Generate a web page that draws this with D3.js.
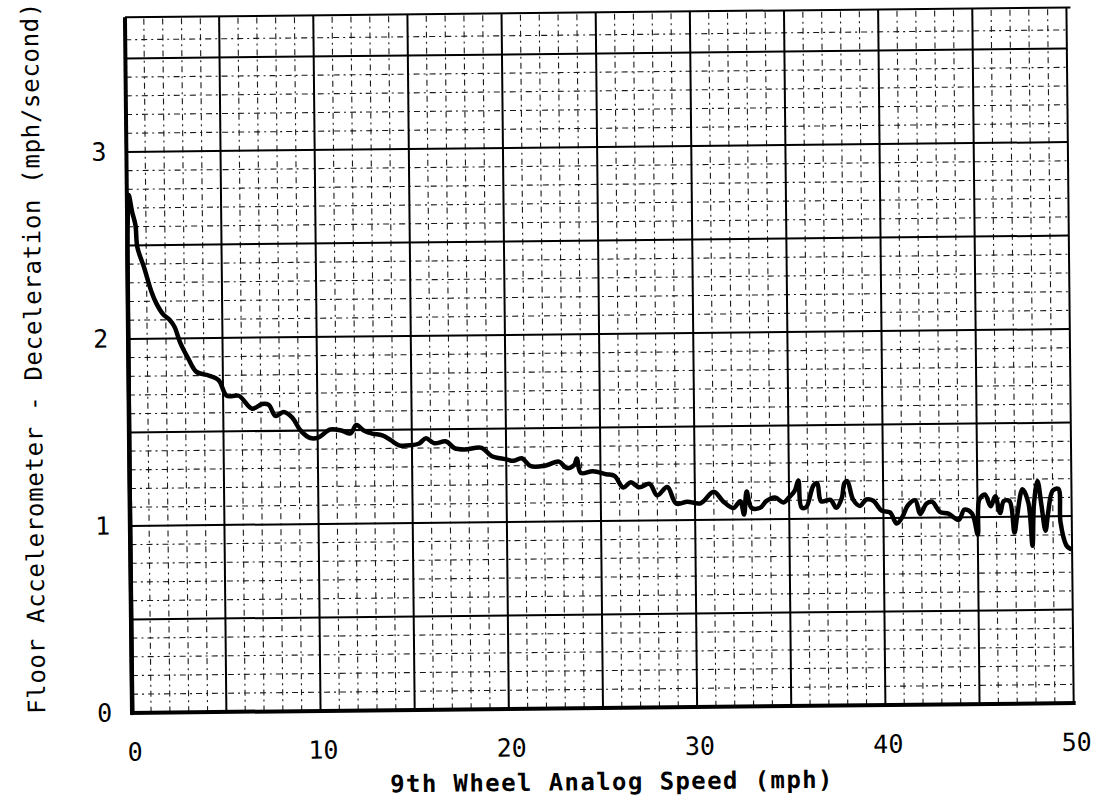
<!DOCTYPE html>
<html>
<head>
<meta charset="utf-8">
<script src="https://cdn.jsdelivr.net/npm/d3@7"></script>
<style>
  html, body { margin: 0; padding: 0; background: #fff; }
  svg { display: block; }
  text { font-family: "DejaVu Sans Mono", monospace; fill: #000; }
</style>
</head>
<body>
<svg id="chart" width="1099" height="806"></svg>
<script>
// Fifth-wheel deceleration trace: speed (mph) vs. floor accelerometer reading (mph/s)
const speed = [
  0, 0, 0.03, 0.1, 0.27, 0.44, 0.53, 0.88, 1.24, 1.5, 1.86, 2.2, 2.47, 2.74, 3.18, 3.6,
  4.24, 4.77, 5.2, 5.83, 6.54, 7.07, 7.42, 7.77, 8.2, 8.66, 9.1, 9.61, 10.05, 10.68,
  11.3, 11.74, 12.06, 12.45, 12.9, 13.43, 13.88, 14.32, 14.95, 15.39, 15.75, 16.19,
  16.82, 17.26, 17.8, 18.7, 19.22, 19.95, 20.4, 20.82, 21.3, 22.1, 22.8, 23.2, 23.6,
  23.75, 23.95, 24.6, 25.3, 25.74, 26.2, 26.6, 27.05, 27.6, 28.0, 28.54, 29.0, 29.6,
  30.3, 31.0, 31.5, 32.05, 32.4, 32.6, 32.75, 33.0, 33.46, 33.8, 34.25, 34.7, 35.0,
  35.3, 35.5, 35.65, 35.9, 36.3, 36.5, 36.7, 37.2, 37.5, 37.8, 37.95, 38.1, 38.4,
  38.76, 39.1, 39.47, 39.9, 40.35, 40.7, 41.0, 41.3, 41.7, 41.95, 42.3, 42.6, 43.0,
  43.45, 44.0, 44.3, 44.7, 45.0, 45.1, 45.4, 45.7, 45.95, 46.2, 46.4, 46.7, 46.95,
  47.1, 47.4, 47.7, 47.9, 48.0, 48.2, 48.4, 48.6, 48.75, 49.0, 49.3, 49.4, 49.7, 49.9
];
const decel = [
  0, 2.45, 2.62, 2.77, 2.68, 2.61, 2.49, 2.38, 2.255, 2.19, 2.13, 2.10, 2.06, 1.98, 1.89, 1.82,
  1.80, 1.775, 1.69, 1.69, 1.62, 1.645, 1.64, 1.58, 1.60, 1.57, 1.50, 1.46, 1.463, 1.505,
  1.497, 1.482, 1.527, 1.497, 1.48, 1.47, 1.444, 1.416, 1.416, 1.425, 1.452, 1.425,
  1.434, 1.398, 1.39, 1.398, 1.354, 1.336, 1.327, 1.34, 1.297, 1.30, 1.32, 1.285, 1.30,
  1.335, 1.258, 1.267, 1.25, 1.24, 1.178, 1.205, 1.178, 1.196, 1.134, 1.178, 1.089, 1.098,
  1.089, 1.15, 1.098, 1.062, 1.098, 1.027, 1.15, 1.062, 1.062, 1.098, 1.116, 1.089, 1.116,
  1.15, 1.205, 1.062, 1.062, 1.178, 1.19, 1.093, 1.10, 1.057, 1.11, 1.19, 1.20, 1.10,
  1.066, 1.10, 1.093, 1.04, 1.03, 0.97, 1.004, 1.066, 1.093, 1.02, 1.075, 1.084, 1.03,
  1.02, 0.986, 1.04, 1.02, 0.906, 1.093, 1.12, 1.057, 1.11, 1.02, 1.084, 1.084, 0.915,
  1.004, 1.146, 1.075, 0.843, 1.066, 1.19, 1.057, 0.923, 1.02, 1.137, 1.146, 0.968, 0.843, 0.825
];

const xTicks = [0, 10, 20, 30, 40, 50];
const yTicks = [0, 1, 2, 3];
const xTitle = "9th Wheel Analog Speed (mph)";
const yTitle = "Floor Accelerometer - Deceleration (mph/second)";

const xMax = 50, yMax = 3.72;

const svg = d3.select("#chart");
svg.append("rect").attr("width", 1099).attr("height", 806).attr("fill", "#fff");

// the chart sheet sits slightly tilted on the page
const g = svg.append("g").attr("transform", "rotate(-0.6, 600, 400)");

const x = d3.scaleLinear().domain([0, xMax]).range([129, 1070.5]);
const y = d3.scaleLinear().domain([0, yMax]).range([708, 708 - 187 * yMax]);

// minor grid: every 1 mph and every 0.1 mph/s, dashed
const minorX = d3.range(1, xMax).filter(v => v % 5 !== 0);
const minorY = d3.range(1, Math.round(yMax * 10)).filter(k => k % 5 !== 0 && k / 10 < yMax - 0.04).map(k => k / 10);
const minorStyle = sel => sel
  .attr("stroke", "#1a1a1a").attr("stroke-width", 1.1).attr("stroke-dasharray", "6 4 2 4");
const grid = g.append("g");
grid.selectAll(".mx").data(minorX).join("line")
  .attr("x1", d => x(d)).attr("x2", d => x(d))
  .attr("y1", y(0)).attr("y2", y(yMax))
  .call(minorStyle);
grid.selectAll(".my").data(minorY).join("line")
  .attr("x1", x(0)).attr("x2", x(xMax))
  .attr("y1", d => y(d)).attr("y2", d => y(d))
  .call(minorStyle);

// major grid: every 5 mph and every 0.5 mph/s
const majorX = d3.range(5, xMax + 1, 5);
const majorY = d3.range(1, Math.floor(yMax * 2) + 1).map(k => k / 2);
grid.selectAll(".Mx").data(majorX).join("line")
  .attr("x1", d => x(d)).attr("x2", d => x(d))
  .attr("y1", y(0)).attr("y2", y(yMax))
  .attr("stroke", "#000").attr("stroke-width", 2);
grid.selectAll(".My").data(majorY).join("line")
  .attr("x1", x(0)).attr("x2", x(xMax))
  .attr("y1", d => y(d)).attr("y2", d => y(d))
  .attr("stroke", "#000").attr("stroke-width", 2);

// top edge of the sheet
g.append("line")
  .attr("x1", x(0)).attr("x2", x(xMax) + 4)
  .attr("y1", y(yMax)).attr("y2", y(yMax))
  .attr("stroke", "#000").attr("stroke-width", 2);

// heavy axis lines
g.append("line")
  .attr("x1", x(0)).attr("x2", x(0)).attr("y1", y(0) + 2).attr("y2", y(yMax))
  .attr("stroke", "#000").attr("stroke-width", 4);
g.append("line")
  .attr("x1", x(0) - 2).attr("x2", x(xMax) + 2).attr("y1", y(0)).attr("y2", y(0))
  .attr("stroke", "#000").attr("stroke-width", 4);

// axes labels via d3 axes
const xAxis = g.append("g").attr("transform", `translate(0,${y(0)})`)
  .call(d3.axisBottom(x).tickValues(xTicks).tickFormat(d3.format("d")).tickSize(0).tickPadding(30));
xAxis.select(".domain").remove();
xAxis.selectAll("text").attr("font-size", 25).attr("dx", 2)
  .style("font-family", '"DejaVu Sans Mono", monospace');

const yAxis = g.append("g").attr("transform", `translate(${x(0)},0)`)
  .call(d3.axisLeft(y).tickValues(yTicks).tickFormat(d3.format("d")).tickSize(0).tickPadding(20));
yAxis.select(".domain").remove();
yAxis.selectAll("text").attr("font-size", 25)
  .style("font-family", '"DejaVu Sans Mono", monospace');

// the recorded trace
const pts = speed.map((s, i) => [s, decel[i]]);
const line = d3.line()
  .x(d => x(d[0])).y(d => y(d[1]))
  .curve(d3.curveCatmullRom.alpha(0.5));
g.append("path").datum(pts)
  .attr("d", line)
  .attr("fill", "none").attr("stroke", "#000")
  .attr("stroke-width", 4.5).attr("stroke-linejoin", "round").attr("stroke-linecap", "round");

// titles
g.append("text")
  .attr("x", 608).attr("y", 790)
  .attr("text-anchor", "middle")
  .attr("font-size", 24).attr("font-weight", "bold").attr("letter-spacing", 1.4)
  .text(xTitle);

g.append("text")
  .attr("transform", "translate(42,352) rotate(-90)")
  .attr("text-anchor", "middle")
  .attr("font-size", 24).attr("letter-spacing", 0.7)
  .text(yTitle);
</script>
</body>
</html>
